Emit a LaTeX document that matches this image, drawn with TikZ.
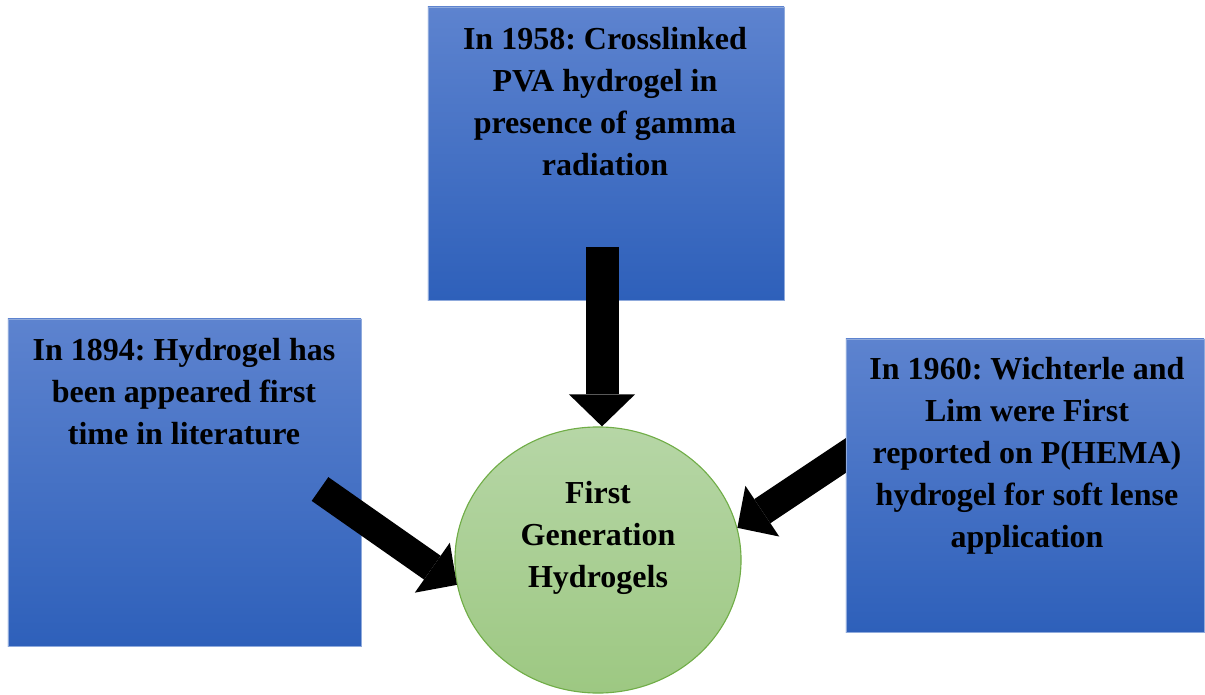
\documentclass[tikz,border=0pt]{standalone}
\usepackage{fontspec}
\setmainfont{Liberation Serif}
\usetikzlibrary{arrows.meta,positioning,shapes.geometric}
\definecolor{boxtop}{RGB}{93,131,207}
\definecolor{boxbot}{RGB}{46,96,186}
\definecolor{boxline}{RGB}{143,170,220}
\definecolor{gentop}{RGB}{182,214,166}
\definecolor{genbot}{RGB}{157,200,130}
\definecolor{genline}{RGB}{112,173,71}
\frenchspacing

\begin{document}
\begin{tikzpicture}[
    x=0.025cm,y=-0.025cm,
    yearbox/.style={rectangle,draw=boxline,line width=0.6pt,top color=boxtop,bottom color=boxbot,inner sep=0},
    genbubble/.style={ellipse,draw=genline,line width=0.8pt,top color=gentop,bottom color=genbot,minimum width=7.15cm,minimum height=6.65cm,inner sep=0},
    boxtext/.style={align=center,inner sep=0,font=\fontsize{22.76}{29.88}\selectfont\bfseries},
    blockarrow/.style={black,line width=0.725cm,-{Triangle[width=1.525cm,length=0.75cm,line width=0pt]}},
  ]
    \useasboundingbox (0,0) rectangle (1205,695);
    \node[yearbox,minimum width=8.9cm,minimum height=7.325cm] (b1958) at (606,153.5) {};
    \node[yearbox,minimum width=8.825cm,minimum height=8.175cm] (b1894) at (184.5,482.5) {};
    \node[genbubble] (gen) at (598,560) {};
    % right arrow runs behind its box
    \coordinate (a1960) at (878,434);
    \draw[blockarrow] (a1960) -- (gen.13);
    \node[yearbox,minimum width=8.95cm,minimum height=7.325cm] (b1960) at (1025,485.5) {};
    \coordinate (a1958) at (602,247);
    \draw[blockarrow,line width=0.825cm,-{Triangle[width=1.65cm,length=0.8cm,line width=0pt]}] (a1958) -- (a1958 |- gen.north);
    \coordinate (a1894) at (320,489);
    \draw[blockarrow] (a1894) -- (gen.190);
    \node[boxtext,anchor=north] (t1958) at (605,27) {In 1958: Crosslinked\\PVA hydrogel in\\presence of gamma\\radiation};
    \node[boxtext,anchor=north] (t1894) at (184,338) {In 1894: Hydrogel has\\been appeared first\\time in literature};
    \node[boxtext,anchor=north] (t1960) at (1027,357) {In 1960: Wichterle and\\Lim were First\\reported on P(HEMA)\\hydrogel for soft lense\\application};
    \node[boxtext,anchor=north] (tgen) at (598,481) {First\\Generation\\Hydrogels};
  \end{tikzpicture}
\end{document}
